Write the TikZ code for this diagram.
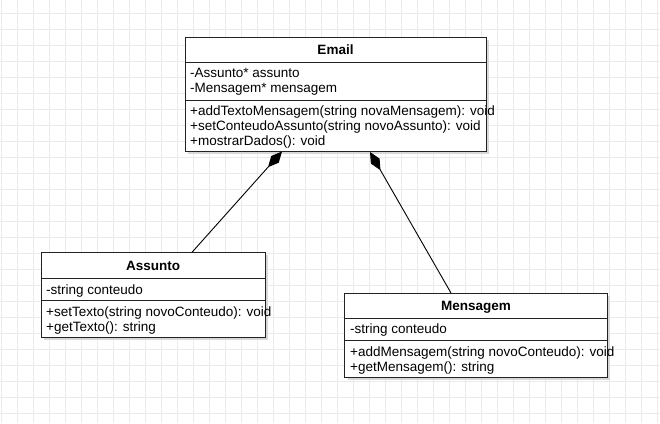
\documentclass[tikz,border=0pt]{standalone}
\usepackage{fontspec}
\setmainfont{Liberation Sans}
\usetikzlibrary{arrows.meta}
\definecolor{gridc}{HTML}{EBEBEB}
\definecolor{shadowc}{HTML}{D8D8D8}
\definecolor{linec}{HTML}{222222}
\tikzset{
  umlbox/.style={draw=linec, line width=1pt, fill=white},
  umlshadow/.style={fill=shadowc, draw=none},
  divider/.style={draw=linec, line width=1pt},
  memb/.style={anchor=west, inner sep=0pt, font=\fontsize{13.5}{15}\selectfont, text height=9.7pt, text depth=2.8pt, yshift=-1.8pt},
  ttl/.style={inner sep=0pt, font=\fontsize{13.5}{15}\selectfont\bfseries, text height=9.7pt, text depth=2.8pt, yshift=-1.8pt},
  compos/.style={draw=black, line width=0.9pt, -{Diamond[length=21pt,width=10pt,fill=black]}},
}
\begin{document}
\begin{tikzpicture}[x=1pt,y=-1pt]
\useasboundingbox (0,0) rectangle (660,423);
\fill[white] (0,0) rectangle (660,423);
% grid
\foreach \gx in {1,17,...,657} \draw[gridc, line width=1pt] (\gx,0) -- (\gx,423);
\foreach \gy in {13,29,...,413} \draw[gridc, line width=1pt] (0,\gy) -- (660,\gy);

% Email
\fill[umlshadow] (188,40) rectangle (489,154);
\draw[umlbox] (185,37) rectangle (486,151);
\draw[divider] (185,62.7) -- (486,62.7);
\draw[divider] (185,100.7) -- (486,100.7);
\node[ttl] (emailt) at (335.5,49.5) {Email};
\node[memb] (ea1) at (190,72.5) {-Assunto* assunto};
\node[memb] (ea2) at (190,87.5) {-Mensagem* mensagem};
\node[memb] (em1) at (190,110.5) {+addTextoMensagem(string novaMensagem): void};
\node[memb] (em2) at (190,125.5) {+setConteudoAssunto(string novoAssunto): void};
\node[memb] (em3) at (190,140.5) {+mostrarDados(): void};

% Assunto
\fill[umlshadow] (44,255.3) rectangle (268.3,340.3);
\draw[umlbox] (41,252.3) rectangle (265.3,337.3);
\draw[divider] (41,278.3) -- (265.3,278.3);
\draw[divider] (41,300) -- (265.3,300);
\node[ttl] (asst) at (153.2,265.5) {Assunto};
\node[memb] (aa1) at (46,289) {-string conteudo};
\node[memb] (am1) at (46,311.5) {+setTexto(string novoConteudo): void};
\node[memb] (am2) at (46,326.5) {+getTexto(): string};

% Mensagem
\fill[umlshadow] (347.7,296) rectangle (610.3,380.3);
\draw[umlbox] (344.7,293) rectangle (607.3,377.3);
\draw[divider] (344.7,318.3) -- (607.3,318.3);
\draw[divider] (344.7,340) -- (607.3,340);
\node[ttl] (mset) at (476,305.5) {Mensagem};
\node[memb] (ma1) at (350,328.5) {-string conteudo};
\node[memb] (mm1) at (350,351.5) {+addMensagem(string novoConteudo): void};
\node[memb] (mm2) at (350,366.5) {+getMensagem(): string};

% connectors
\coordinate (eA) at (282,151.5);
\coordinate (eM) at (370,152);
\coordinate (aT) at (192,252.3);
\coordinate (mT) at (451,293);
\draw[compos] (aT) -- (eA);
\draw[compos] (mT) -- (eM);
\end{tikzpicture}
\end{document}
